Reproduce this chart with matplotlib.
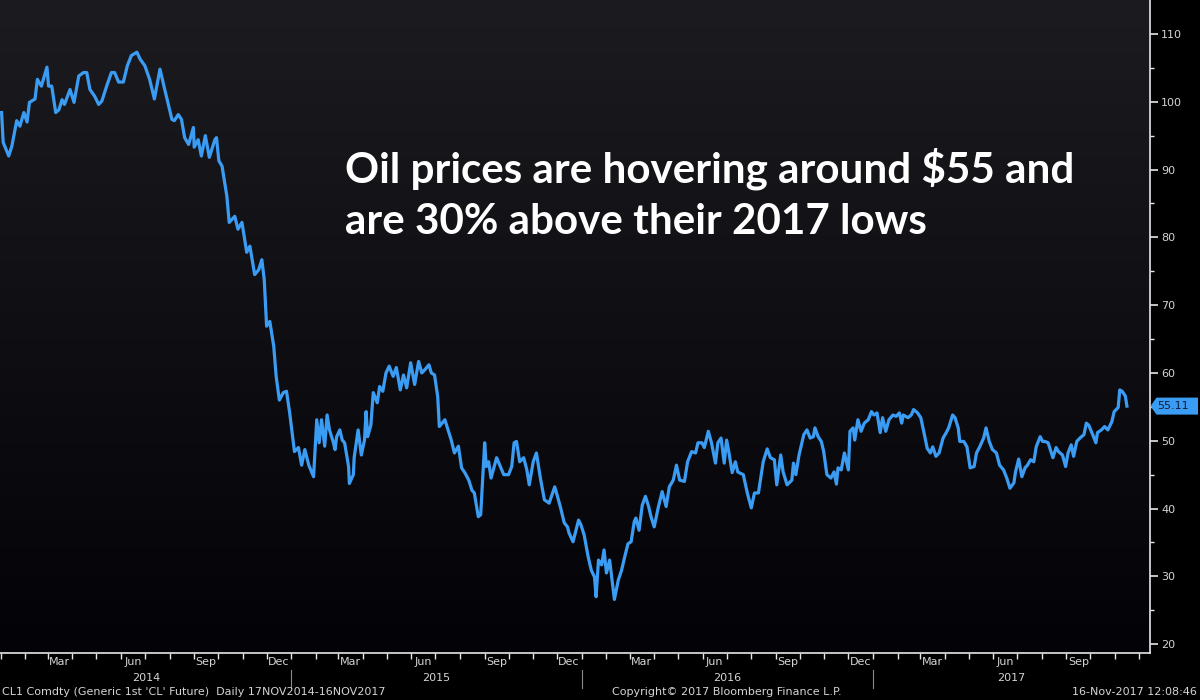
import matplotlib
matplotlib.use("Agg")
import matplotlib.pyplot as plt
import matplotlib.dates as mdates
import matplotlib.transforms as mtransforms
from matplotlib.colors import LinearSegmentedColormap
from matplotlib.patches import Polygon
import numpy as np
import pandas as pd

# ---------------- data ----------------
dates = [
    "2014-01-02", "2014-01-04", "2014-01-11", "2014-01-15", "2014-01-21", "2014-01-25", "2014-01-30",
    "2014-02-03", "2014-02-06", "2014-02-13", "2014-02-16", "2014-02-21", "2014-02-28", "2014-03-02",
    "2014-03-06", "2014-03-11", "2014-03-15", "2014-03-19", "2014-03-22", "2014-03-29", "2014-04-03",
    "2014-04-09", "2014-04-15", "2014-04-19", "2014-04-23", "2014-04-29", "2014-05-04", "2014-05-08",
    "2014-05-14", "2014-05-20", "2014-05-24", "2014-05-29", "2014-06-04", "2014-06-09", "2014-06-14",
    "2014-06-21", "2014-06-25", "2014-07-01", "2014-07-07", "2014-07-13", "2014-07-20", "2014-07-25",
    "2014-07-31", "2014-08-04", "2014-08-07", "2014-08-12", "2014-08-16", "2014-08-20", "2014-08-25",
    "2014-08-31", "2014-09-01", "2014-09-06", "2014-09-10", "2014-09-15", "2014-09-20", "2014-09-27",
    "2014-09-29", "2014-10-02", "2014-10-06", "2014-10-12", "2014-10-15", "2014-10-22", "2014-10-26",
    "2014-10-31", "2014-11-06", "2014-11-10", "2014-11-16", "2014-11-21", "2014-11-25", "2014-11-28",
    "2014-12-01", "2014-12-05", "2014-12-10", "2014-12-13", "2014-12-17", "2014-12-22", "2014-12-26",
    "2014-12-30", "2015-01-05", "2015-01-10", "2015-01-14", "2015-01-18", "2015-01-23", "2015-01-29",
    "2015-02-02", "2015-02-05", "2015-02-08", "2015-02-12", "2015-02-15", "2015-02-18", "2015-02-23",
    "2015-02-25", "2015-02-27", "2015-03-03", "2015-03-06", "2015-03-09", "2015-03-14", "2015-03-15",
    "2015-03-20", "2015-03-21", "2015-03-26", "2015-03-30", "2015-04-03", "2015-04-05", "2015-04-07",
    "2015-04-11", "2015-04-14", "2015-04-19", "2015-04-22", "2015-04-26", "2015-04-30", "2015-05-04",
    "2015-05-09", "2015-05-13", "2015-05-18", "2015-05-22", "2015-05-26", "2015-05-31", "2015-06-05",
    "2015-06-10", "2015-06-14", "2015-06-18", "2015-06-23", "2015-06-26", "2015-06-30", "2015-07-04",
    "2015-07-06", "2015-07-13", "2015-07-18", "2015-07-21", "2015-07-25", "2015-07-30", "2015-08-03",
    "2015-08-07", "2015-08-12", "2015-08-16", "2015-08-19", "2015-08-24", "2015-08-27", "2015-09-01",
    "2015-09-03", "2015-09-06", "2015-09-09", "2015-09-13", "2015-09-16", "2015-09-20", "2015-09-25",
    "2015-10-01", "2015-10-05", "2015-10-08", "2015-10-11", "2015-10-15", "2015-10-20", "2015-10-24",
    "2015-10-27", "2015-11-01", "2015-11-05", "2015-11-10", "2015-11-15", "2015-11-21", "2015-11-28",
    "2015-12-01", "2015-12-05", "2015-12-10", "2015-12-14", "2015-12-16", "2015-12-21", "2015-12-28",
    "2015-12-31", "2016-01-04", "2016-01-09", "2016-01-13", "2016-01-17", "2016-01-19", "2016-01-22",
    "2016-01-26", "2016-01-29", "2016-02-01", "2016-02-05", "2016-02-08", "2016-02-11", "2016-02-16",
    "2016-02-20", "2016-02-24", "2016-02-28", "2016-03-03", "2016-03-07", "2016-03-09", "2016-03-13",
    "2016-03-17", "2016-03-21", "2016-03-25", "2016-03-28", "2016-04-01", "2016-04-06", "2016-04-11",
    "2016-04-16", "2016-04-20", "2016-04-25", "2016-04-29", "2016-05-03", "2016-05-09", "2016-05-13",
    "2016-05-18", "2016-05-23", "2016-05-26", "2016-05-31", "2016-06-03", "2016-06-08", "2016-06-12",
    "2016-06-17", "2016-06-20", "2016-06-24", "2016-06-28", "2016-07-01", "2016-07-04", "2016-07-08",
    "2016-07-12", "2016-07-15", "2016-07-22", "2016-07-27", "2016-08-01", "2016-08-05", "2016-08-10",
    "2016-08-16", "2016-08-21", "2016-08-25", "2016-08-30", "2016-09-02", "2016-09-07", "2016-09-10",
    "2016-09-15", "2016-09-21", "2016-09-23", "2016-09-26", "2016-09-30", "2016-10-06", "2016-10-10",
    "2016-10-14", "2016-10-18", "2016-10-20", "2016-10-24", "2016-10-28", "2016-10-31", "2016-11-04",
    "2016-11-09", "2016-11-13", "2016-11-16", "2016-11-18", "2016-11-22", "2016-11-26", "2016-11-28",
    "2016-12-01", "2016-12-03", "2016-12-07", "2016-12-09", "2016-12-13", "2016-12-17", "2016-12-21",
    "2016-12-26", "2016-12-30", "2017-01-02", "2017-01-06", "2017-01-10", "2017-01-13", "2017-01-17",
    "2017-01-21", "2017-01-26", "2017-01-30", "2017-02-03", "2017-02-06", "2017-02-08", "2017-02-14",
    "2017-02-18", "2017-02-21", "2017-02-26", "2017-03-02", "2017-03-06", "2017-03-10", "2017-03-14",
    "2017-03-17", "2017-03-21", "2017-03-25", "2017-03-30", "2017-04-03", "2017-04-06", "2017-04-11",
    "2017-04-14", "2017-04-18", "2017-04-20", "2017-04-25", "2017-04-29", "2017-05-03", "2017-05-08",
    "2017-05-11", "2017-05-15", "2017-05-20", "2017-05-23", "2017-05-27", "2017-05-31", "2017-06-05",
    "2017-06-09", "2017-06-14", "2017-06-18", "2017-06-22", "2017-06-27", "2017-06-29", "2017-07-03",
    "2017-07-07", "2017-07-11", "2017-07-14", "2017-07-18", "2017-07-22", "2017-07-25", "2017-07-30",
    "2017-08-02", "2017-08-05", "2017-08-09", "2017-08-15", "2017-08-19", "2017-08-22", "2017-08-27",
    "2017-08-31", "2017-09-03", "2017-09-07", "2017-09-10", "2017-09-14", "2017-09-18", "2017-09-23",
    "2017-09-26", "2017-09-29", "2017-10-04", "2017-10-08", "2017-10-10", "2017-10-15", "2017-10-19",
    "2017-10-23", "2017-10-28", "2017-10-31", "2017-11-05", "2017-11-07", "2017-11-10", "2017-11-14",
    "2017-11-16",
]
prices = [
    98.4, 94.0, 92.0, 93.5, 97.2, 96.4, 98.4,
    97.0, 99.9, 100.4, 103.3, 102.3, 105.1, 102.3,
    102.3, 98.4, 98.8, 100.3, 99.6, 101.8, 99.9,
    103.8, 104.3, 104.3, 101.8, 100.8, 99.6, 100.1,
    102.3, 104.3, 104.3, 102.9, 102.9, 105.3, 106.8,
    107.3, 106.3, 105.3, 103.3, 100.4, 104.8, 102.3,
    99.4, 97.4, 97.2, 98.1, 97.4, 94.7, 93.7,
    96.2, 93.3, 94.4, 92.0, 95.0, 91.8, 94.4,
    94.7, 91.3, 90.5, 86.1, 82.2, 83.1, 81.2,
    82.2, 77.8, 78.7, 74.5, 75.2, 76.7, 73.8,
    66.9, 67.6, 63.9, 59.5, 56.0, 57.1, 57.3,
    54.1, 48.4, 49.0, 46.4, 48.7, 46.4, 44.7,
    53.1, 49.7, 53.1, 49.2, 53.8, 51.6, 49.7,
    48.7, 50.6, 51.6, 50.1, 49.7, 46.2, 43.7,
    45.0, 47.5, 51.6, 47.9, 50.1, 54.3, 50.6,
    52.3, 57.1, 55.6, 58.0, 57.3, 60.0, 61.0,
    59.5, 60.8, 57.5, 59.7, 57.8, 61.5, 58.3,
    61.7, 60.0, 60.5, 61.2, 60.0, 59.7, 56.5,
    52.1, 53.1, 51.2, 50.1, 48.2, 49.2, 46.0,
    45.3, 44.2, 42.7, 42.3, 38.8, 39.1, 49.7,
    46.2, 46.9, 44.5, 46.2, 47.5, 46.4, 45.0,
    45.0, 46.2, 49.7, 49.9, 46.9, 47.5, 45.7,
    43.5, 46.9, 48.2, 44.5, 41.3, 40.8, 43.2,
    42.0, 40.3, 37.9, 37.3, 36.4, 35.1, 38.3,
    37.6, 36.1, 32.9, 30.9, 29.9, 27.0, 32.4,
    31.7, 33.9, 30.5, 32.4, 29.5, 26.6, 29.5,
    30.9, 32.9, 34.8, 35.1, 38.1, 38.6, 36.8,
    40.5, 41.8, 40.3, 38.8, 37.3, 40.1, 42.5,
    40.3, 43.2, 44.2, 46.4, 44.2, 44.0, 46.9,
    48.4, 48.2, 49.7, 49.7, 49.0, 51.4, 49.7,
    46.7, 49.7, 50.4, 46.7, 50.1, 48.2, 45.3,
    46.9, 45.4, 45.0, 42.3, 40.1, 42.3, 42.3,
    46.9, 48.8, 47.5, 47.2, 43.5, 47.9, 45.4,
    43.5, 44.2, 46.7, 45.0, 47.9, 50.9, 51.6,
    50.4, 50.6, 51.9, 50.6, 49.9, 48.4, 45.0,
    44.5, 45.4, 43.6, 46.0, 45.7, 48.2, 47.2,
    45.7, 51.4, 51.9, 50.1, 53.1, 51.4, 52.6,
    53.1, 54.3, 53.8, 54.1, 51.2, 53.4, 51.4,
    53.1, 53.8, 53.6, 54.1, 52.6, 53.8, 53.4,
    53.8, 54.6, 54.1, 53.4, 51.2, 48.9, 48.2,
    49.1, 47.7, 48.2, 50.4, 51.2, 51.9, 53.8,
    53.4, 51.9, 49.9, 49.9, 49.1, 46.0, 46.2,
    48.2, 49.1, 50.4, 51.9, 49.9, 48.7, 48.2,
    46.4, 45.7, 44.5, 43.0, 43.8, 45.4, 47.3,
    44.7, 46.0, 46.4, 47.2, 46.9, 49.1, 50.6,
    49.9, 49.9, 49.7, 47.5, 49.0, 48.4, 47.9,
    46.2, 48.2, 49.4, 47.7, 49.9, 50.4, 50.9,
    52.6, 52.3, 50.9, 49.7, 51.2, 51.6, 52.1,
    51.6, 52.8, 54.3, 54.9, 57.5, 57.3, 56.6,
    55.11,
]

y_ticks = [20, 30, 40, 50, 60, 70, 80, 90, 100, 110]
y_minor_ticks = [25, 35, 45, 55, 65, 75, 85, 95, 105]
month_labels = {3: "Mar", 6: "Jun", 9: "Sep", 12: "Dec"}
years = [2014, 2015, 2016, 2017]
x_start, x_end = "2013-12-31", "2017-12-15"
last_value = 55.11
headline = "Oil prices are hovering around $55 and\nare 30% above their 2017 lows"
footer_left = "CL1 Comdty (Generic 1st 'CL' Future)  Daily 17NOV2014-16NOV2017"
footer_mid = "Copyright\u00a9 2017 Bloomberg Finance L.P."
footer_right = "16-Nov-2017 12:08:46"

# ---------------- styling ----------------
LINE = "#3b9cf4"
TXT = "#d4d4d4"
AXC = "#e6e6e6"

fig = plt.figure(figsize=(12, 7), dpi=100, facecolor="black")
W, H = 1200, 700
ax_left, ax_right, ax_bottom = 0, 1150, 653
ax = fig.add_axes([ax_left / W, 1 - ax_bottom / H, (ax_right - ax_left) / W, ax_bottom / H])
ax.set_facecolor("black")

# gradient background of the plot area
cmap = LinearSegmentedColormap.from_list("bg", ["#030307", "#1c1c20"])
grad = np.linspace(1, 0, 256).reshape(-1, 1)
ax.imshow(grad, extent=[0, 1, 0, 1], transform=ax.transAxes, aspect="auto",
          cmap=cmap, vmin=0, vmax=1, zorder=0, interpolation="bicubic")

x = pd.to_datetime(dates)
ax.plot(x, prices, color=LINE, lw=2.3, solid_joinstyle="round", zorder=3)

xmin, xmax = pd.Timestamp(x_start), pd.Timestamp(x_end)
ax.set_xlim(xmin, xmax)
ax.set_ylim(18.7, 115)

# spines
for s in ["left", "top"]:
    ax.spines[s].set_visible(False)
for s in ["right", "bottom"]:
    ax.spines[s].set_color(AXC)
    ax.spines[s].set_linewidth(1.2)

# y axis on the right
ax.yaxis.tick_right()
ax.set_yticks(y_ticks)
ax.set_yticks(y_minor_ticks, minor=True)
ax.tick_params(axis="y", which="major", length=6, width=1.2, color=AXC,
               labelcolor=TXT, labelsize=8, pad=2, direction="out")
ax.tick_params(axis="y", which="minor", length=3, width=1, color=AXC, direction="out")

# x axis: monthly ticks, custom labels
ax.xaxis.set_major_locator(mdates.MonthLocator())
ax.xaxis.set_major_formatter(plt.NullFormatter())
ax.tick_params(axis="x", which="major", length=4, width=1, color=AXC, direction="out")

xt = ax.get_xaxis_transform()
for yr in years:
    for m, lab in month_labels.items():
        d = pd.Timestamp(year=yr, month=m, day=16)
        if xmin <= d <= xmax:
            ax.text(d, -0.0135, lab, transform=xt, ha="center", va="center",
                    color=TXT, fontsize=8, clip_on=False)
    y0 = max(pd.Timestamp(year=yr, month=1, day=1), xmin)
    y1 = min(pd.Timestamp(year=yr + 1, month=1, day=1), xmax)
    mid = y0 + (y1 - y0) / 2
    ax.text(mid, -0.039, str(yr), transform=xt, ha="center", va="center",
            color=TXT, fontsize=8, clip_on=False)
    if yr > years[0]:
        ax.plot([pd.Timestamp(year=yr, month=1, day=1)] * 2, [-0.026, -0.054],
                transform=xt, color="#8a8a8a", lw=0.8, clip_on=False)

# last value tag on the right axis
tag_tr = fig.dpi_scale_trans + mtransforms.ScaledTranslation(1.0, last_value, ax.get_yaxis_transform())
tag = Polygon([(0.005, 0), (0.065, 0.085), (0.48, 0.085), (0.48, -0.085), (0.065, -0.085)],
              closed=True, transform=tag_tr, facecolor=LINE, edgecolor="none", clip_on=False, zorder=5)
ax.add_patch(tag)
ax.text(0.075, 0, f"{last_value:.2f}", transform=tag_tr, ha="left", va="center",
        color="#0d1a3a", fontsize=8, clip_on=False, zorder=6)

# headline
fig.text(345 / W, 1 - 147 / H, headline, ha="left", va="top", color="white",
         fontsize=30.3, fontweight="bold", family=["Lato", "DejaVu Sans"], linespacing=1.45)

# footer
fig.text(2 / W, 1 - 692 / H, footer_left, ha="left", va="center", color=TXT, fontsize=8)
fig.text(612 / W, 1 - 692 / H, footer_mid, ha="left", va="center", color=TXT, fontsize=8)
fig.text(1197 / W, 1 - 692 / H, footer_right, ha="right", va="center", color=TXT, fontsize=8)

fig.savefig("out.png", dpi=100, facecolor="black")
